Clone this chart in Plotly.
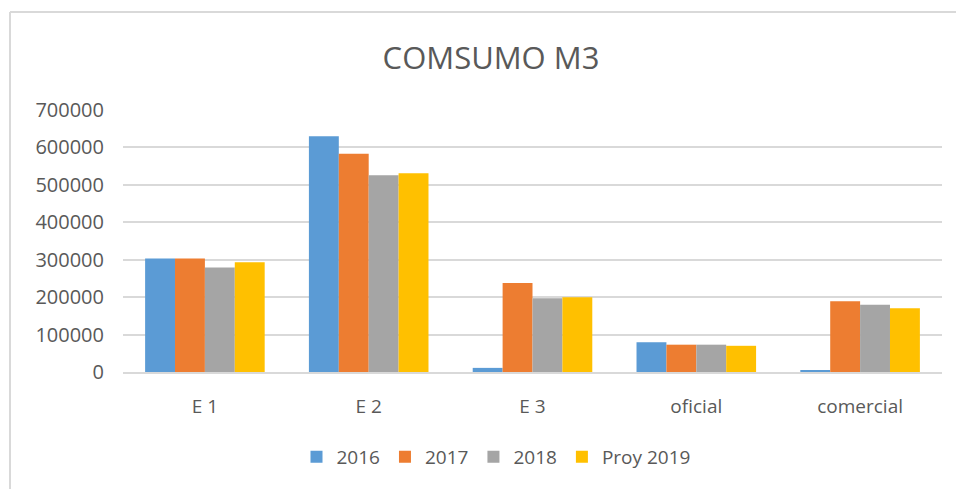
import plotly.graph_objects as go

categories = ["E 1", "E 2", "E 3", "oficial", "comercial"]
series_names = ["2016", "2017", "2018", "Proy 2019"]
v2016 = [303000, 630000, 11000, 79500, 4500]
v2017 = [303000, 583000, 237500, 73000, 189000]
v2018 = [279000, 526000, 197000, 73000, 179500]
v2019 = [293000, 531000, 200000, 70000, 170000]
colors = ["#5B9BD5", "#ED7D31", "#A5A5A5", "#FFC000"]
tick_vals = [0, 100000, 200000, 300000, 400000, 500000, 600000, 700000]

FONT = "Open Sans"
TXT = "#595959"

fig = go.Figure()
for name, vals, col in zip(series_names, [v2016, v2017, v2018, v2019], colors):
    fig.add_trace(go.Bar(name=name, x=categories, y=vals, marker_color=col,
                         marker_line_width=0))

W, H = 956, 489
L, T = 123, 110
R = W - 942
B = H - 372


def cx(px):
    return px / W


def cy(py):
    return 1 - py / H


fig.update_layout(
    width=W, height=H,
    margin=dict(l=L, r=R, t=T, b=B),
    paper_bgcolor="white", plot_bgcolor="white",
    barmode="group", bargap=0.27, bargroupgap=0,
    font=dict(family=FONT, color=TXT, size=19),
    title=dict(text="COMSUMO M3", x=cx(491), xref="container", xanchor="center",
               y=cy(58), yref="container", yanchor="middle",
               font=dict(family=FONT, size=31, color=TXT)),
    legend=dict(orientation="h", x=cx(496), xref="container", xanchor="center",
                y=cy(457), yref="container", yanchor="middle",
                font=dict(family=FONT, size=19, color=TXT),
                itemwidth=30, tracegroupgap=0, bgcolor="rgba(0,0,0,0)"),
    showlegend=True,
)
fig.update_xaxes(showgrid=False, showline=True, linecolor="#d9d9d9", linewidth=2,
                 ticks="", ticklabelstandoff=16,
                 tickfont=dict(family=FONT, size=19, color=TXT))
fig.update_yaxes(range=[0, 700000], tickvals=tick_vals,
                 ticktext=[str(v) for v in tick_vals],
                 showgrid=True, gridcolor="#d9d9d9", gridwidth=1.5,
                 zeroline=False, showline=False, ticks="", ticklabelstandoff=18,
                 tickfont=dict(family=FONT, size=20, color=TXT))

# chart border (light gray): top and left edges only visible in the reference
pw, ph = W - L - R, H - T - B
xl = (10 - L) / pw
yt = (H - B - 12) / ph
fig.add_shape(type="line", xref="paper", yref="paper",
              x0=xl, x1=(W - L) / pw, y0=yt, y1=yt,
              line=dict(color="#d9d9d9", width=2), layer="below")
fig.add_shape(type="line", xref="paper", yref="paper",
              x0=xl, x1=xl, y0=yt, y1=-B / ph,
              line=dict(color="#d9d9d9", width=2), layer="below")

fig.write_html(
    "out.html",
    config={"displayModeBar": False},
    post_script=(
        "document.body.style.margin='0';"
        "document.body.style.overflow='hidden';"
        "document.documentElement.style.overflow='hidden';"
    ),
)
